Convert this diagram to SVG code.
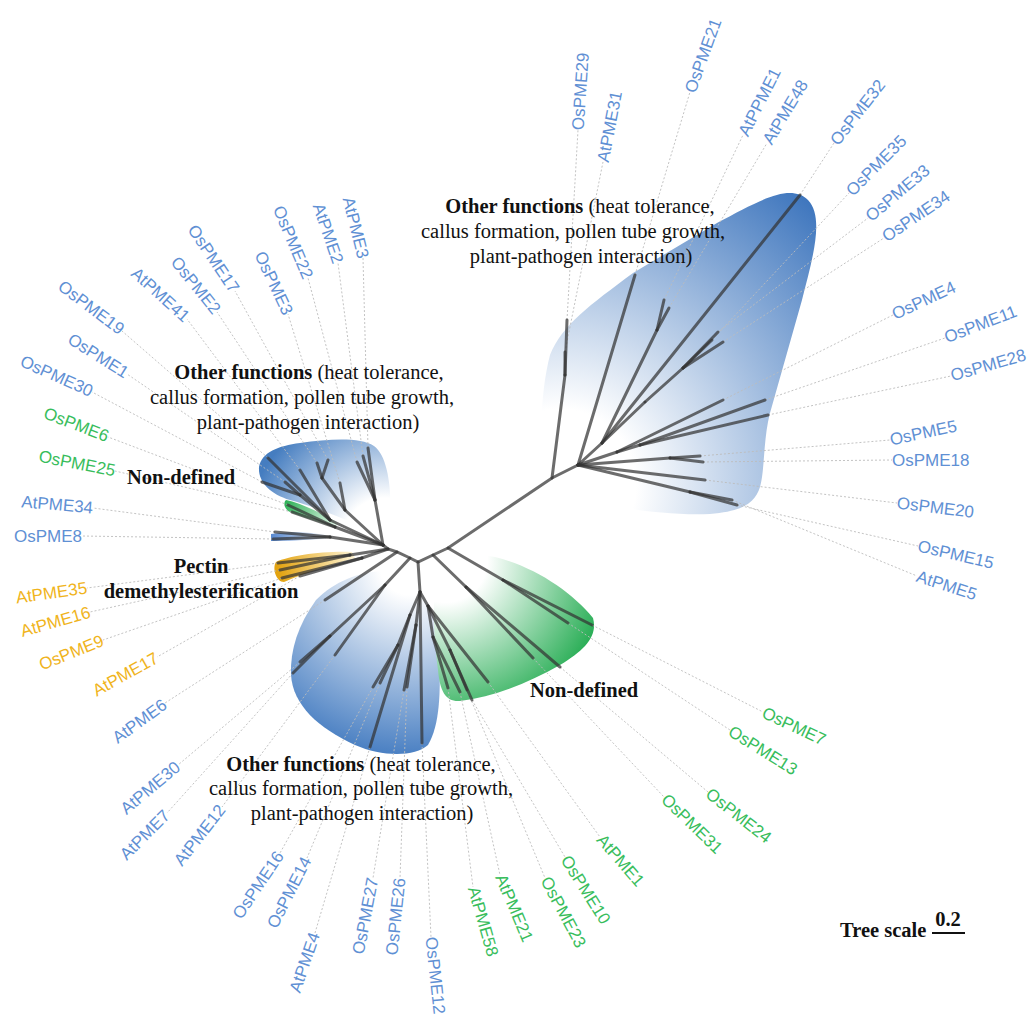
<svg xmlns="http://www.w3.org/2000/svg" width="1030" height="1016" viewBox="0 0 1030 1016">
<style>
.br{stroke:#333;stroke-opacity:0.72;stroke-width:3;fill:none;stroke-linecap:round}
.dl{stroke:#bcbcbc;stroke-width:0.9;stroke-dasharray:2 2;fill:none}
.lab{font-family:"Liberation Sans",Arial,sans-serif;font-size:17px;dominant-baseline:central}
.s{text-anchor:start}.e{text-anchor:end}
.b{fill:#5f90d4}.g{fill:#38bd5c}.y{fill:#f0b41c}
.ann{font-family:"Liberation Serif","Times New Roman",serif;font-size:20.5px;fill:#111}
.bold{font-weight:bold}
</style>
<defs>
<radialGradient id="gUR" gradientUnits="userSpaceOnUse" cx="560" cy="485" r="380"><stop offset="0" stop-color="#fff"/><stop offset="0.2" stop-color="#fff"/><stop offset="1" stop-color="#3d75bd"/></radialGradient>
<radialGradient id="gUL" gradientUnits="userSpaceOnUse" cx="385" cy="540" r="140"><stop offset="0" stop-color="#fff"/><stop offset="0.3" stop-color="#fff"/><stop offset="1" stop-color="#457dc0"/></radialGradient>
<radialGradient id="gLB" gradientUnits="userSpaceOnUse" cx="410" cy="565" r="200"><stop offset="0" stop-color="#fff"/><stop offset="0.15" stop-color="#fff"/><stop offset="1" stop-color="#3f78bf"/></radialGradient>
<radialGradient id="gG" gradientUnits="userSpaceOnUse" cx="445" cy="560" r="170"><stop offset="0" stop-color="#fff"/><stop offset="0.25" stop-color="#fff"/><stop offset="1" stop-color="#22ab50"/></radialGradient>
<linearGradient id="gY" gradientUnits="userSpaceOnUse" x1="356" y1="556" x2="278" y2="570"><stop offset="0" stop-color="#fff6d8"/><stop offset="1" stop-color="#e3a310"/></linearGradient>
<linearGradient id="gGs" gradientUnits="userSpaceOnUse" x1="338" y1="525" x2="286" y2="504"><stop offset="0" stop-color="#e8f7ec"/><stop offset="1" stop-color="#32b35a"/></linearGradient>
<linearGradient id="gBs" gradientUnits="userSpaceOnUse" x1="326" y1="537" x2="272" y2="537"><stop offset="0" stop-color="#eef3fa"/><stop offset="1" stop-color="#5a8ad0"/></linearGradient>
</defs>
<rect width="1030" height="1016" fill="#fff"/>
<g id="clades">
<path d="M548,480 C538,440 541,390 550,355 C562,325 590,305 633,273 L717,223 C760,200 790,183 808,200 C825,218 812,260 802,300 L770,413 C763,440 765,470 760,487 C755,502 745,511 710,514 C660,516 600,506 560,491 Z" fill="url(#gUR)"/>
<path d="M385,536 C360,526 320,508 290,500 C270,494 258,482 259,467 C262,452 278,446 300,443 C330,439 360,437 374,446 C388,456 392,490 390,520 Z" fill="url(#gUL)"/>
<path d="M286,500 C300,503 320,512 338,523 L336,528 C318,522 300,516 290,512 C284,509 283,503 286,500 Z" fill="url(#gGs)"/>
<path d="M271,534 C290,531 310,532 326,535 L326,539 C305,540 285,541 271,541 Z" fill="url(#gBs)"/>
<path d="M276,562 C290,556 320,551 352,552 L355,558 C330,565 300,575 284,582 C276,582 272,568 276,562 Z" fill="url(#gY)"/>
<path d="M316,600 C298,625 290,650 291,675 C293,705 318,728 355,745 C382,757 415,757 428,745 C440,725 441,690 439,650 C437,615 425,590 405,575 C380,565 340,575 316,600 Z" fill="url(#gLB)"/>
<path d="M436,585 C445,562 470,552 495,557 C535,567 572,592 593,618 C598,636 585,650 560,665 C530,682 495,697 460,701 C446,702 440,692 438,670 C434,640 432,605 436,585 Z" fill="url(#gG)"/>
</g>
<g id="connectors">
<g id="leader-lines">
<path class="dl" d="M567,320L578,130"/><path class="dl" d="M565,352L603,162"/><path class="dl" d="M635,275L690,92"/><path class="dl" d="M664,300L743,135"/><path class="dl" d="M669,308L767,143"/><path class="dl" d="M800,195L834,143"/><path class="dl" d="M712,340L849,193"/><path class="dl" d="M718,332L868,218"/><path class="dl" d="M723,342L884,238"/><path class="dl" d="M723,400L893,315"/><path class="dl" d="M765,400L945,338"/><path class="dl" d="M768,415L951,376"/><path class="dl" d="M700,456L890,440"/><path class="dl" d="M703,462L892,460"/><path class="dl" d="M705,480L897,503"/><path class="dl" d="M737,505L918,546"/><path class="dl" d="M732,500L917,576"/>
<path class="dl" d="M592,625L763,712"/><path class="dl" d="M568,623L730,730"/><path class="dl" d="M560,667L708,792"/><path class="dl" d="M533,658L664,797"/><path class="dl" d="M488,682L600,837"/><path class="dl" d="M472,700L565,857"/><path class="dl" d="M467,690L545,878"/><path class="dl" d="M460,692L500,875"/><path class="dl" d="M448,688L473,887"/><path class="dl" d="M422,743L431,937"/>
<path class="dl" d="M407,687L400,878"/><path class="dl" d="M404,690L373,878"/><path class="dl" d="M370,747L315,933"/><path class="dl" d="M380,683L307,858"/><path class="dl" d="M373,687L280,853"/><path class="dl" d="M335,655L222,807"/><path class="dl" d="M293,673L167,813"/><path class="dl" d="M300,662L178,765"/><path class="dl" d="M325,600L165,703"/>
<path class="dl" d="M300,576L157,657"/><path class="dl" d="M282,578L103,640"/><path class="dl" d="M280,570L90,612"/><path class="dl" d="M278,563L87,588"/>
<path class="dl" d="M273,539L82,536"/><path class="dl" d="M275,532L93,508"/><path class="dl" d="M292,512L115,471"/><path class="dl" d="M288,505L108,437"/><path class="dl" d="M262,482L92,392"/><path class="dl" d="M285,482L127,374"/><path class="dl" d="M268,458L122,331"/><path class="dl" d="M300,470L187,319"/><path class="dl" d="M317,463L217,312"/><path class="dl" d="M328,460L235,291"/><path class="dl" d="M340,483L288,314"/><path class="dl" d="M357,462L308,278"/><path class="dl" d="M363,456L338,263"/><path class="dl" d="M368,448L363,258"/>
</g>
<g id="branches">
<polyline class="br" points="383,545 388,549 397,552 410,558 418,562 433,555 448,548 552,478 578,465"/>
<path class="br" d="M552,478L565,375"/><path class="br" d="M565,375L567,320"/><path class="br" d="M565,375L565,352"/>
<path class="br" d="M578,465L635,275"/><path class="br" d="M578,465L602,443"/><path class="br" d="M602,443L800,195"/>
<path class="br" d="M602,443L657,330"/><path class="br" d="M657,330L664,300"/><path class="br" d="M657,330L669,308"/>
<path class="br" d="M602,443L645,402"/><path class="br" d="M645,402L683,368"/><path class="br" d="M683,368L712,340"/><path class="br" d="M683,368L718,332"/><path class="br" d="M683,368L723,342"/>
<path class="br" d="M578,465L617,452"/><path class="br" d="M617,452L723,400"/><path class="br" d="M617,452L640,445"/><path class="br" d="M640,445L765,400"/><path class="br" d="M640,445L768,415"/>
<path class="br" d="M578,465L670,458"/><path class="br" d="M670,458L700,456"/><path class="br" d="M670,458L703,462"/>
<path class="br" d="M578,465L705,480"/><path class="br" d="M578,465L690,492"/><path class="br" d="M690,492L737,505"/><path class="br" d="M690,492L732,500"/>
<path class="br" d="M383,545L375,500"/><path class="br" d="M375,500L368,448"/><path class="br" d="M375,500L363,456"/><path class="br" d="M375,500L357,462"/>
<path class="br" d="M383,545L345,510"/><path class="br" d="M345,510L340,483"/><path class="br" d="M345,510L322,478"/><path class="br" d="M322,478L317,463"/><path class="br" d="M322,478L328,460"/>
<path class="br" d="M383,545L330,520"/><path class="br" d="M330,520L268,458"/><path class="br" d="M330,520L300,470"/><path class="br" d="M330,520L300,495"/><path class="br" d="M300,495L262,482"/><path class="br" d="M300,495L285,482"/>
<path class="br" d="M383,545L335,527"/><path class="br" d="M335,527L288,505"/><path class="br" d="M335,527L292,512"/>
<path class="br" d="M383,545L330,537"/><path class="br" d="M330,537L275,532"/><path class="br" d="M330,537L273,539"/>
<path class="br" d="M388,549L350,555"/><path class="br" d="M350,555L278,563"/><path class="br" d="M350,555L280,570"/><path class="br" d="M388,549L362,558"/><path class="br" d="M362,558L282,578"/><path class="br" d="M362,558L300,576"/>
<path class="br" d="M397,552L325,600"/><path class="br" d="M410,558L385,585"/><path class="br" d="M385,585L335,655"/><path class="br" d="M385,585L330,636"/><path class="br" d="M330,636L293,673"/><path class="br" d="M330,636L300,662"/>
<path class="br" d="M418,562L420,592"/><path class="br" d="M420,592L422,743"/><path class="br" d="M420,592L416,625"/><path class="br" d="M416,625L407,687"/><path class="br" d="M416,625L404,690"/>
<path class="br" d="M420,592L410,615"/><path class="br" d="M410,615L370,747"/><path class="br" d="M410,615L398,645"/><path class="br" d="M398,645L373,687"/><path class="br" d="M398,645L380,683"/>
<path class="br" d="M420,592L428,606"/><path class="br" d="M428,606L433,637"/><path class="br" d="M433,637L448,688"/><path class="br" d="M433,637L460,692"/><path class="br" d="M428,606L450,650"/><path class="br" d="M450,650L467,690"/><path class="br" d="M450,650L472,700"/><path class="br" d="M428,606L488,682"/>
<path class="br" d="M433,555L466,587"/><path class="br" d="M466,587L533,658"/><path class="br" d="M466,587L560,667"/>
<path class="br" d="M448,548L503,580"/><path class="br" d="M503,580L592,625"/><path class="br" d="M503,580L568,623"/>
</g>
</g>
<g id="labels">
<g id="n-OsPME29"><text class="lab s b" transform="translate(578,130) rotate(-86)">OsPME29</text></g>
<g id="n-AtPME31"><text class="lab s b" transform="translate(603,162) rotate(-79)">AtPME31</text></g>
<g id="n-OsPME21"><text class="lab s b" transform="translate(690,92) rotate(-70)">OsPME21</text></g>
<g id="n-AtPPME1"><text class="lab s b" transform="translate(743,135) rotate(-63)">AtPPME1</text></g>
<g id="n-AtPME48"><text class="lab s b" transform="translate(767,143) rotate(-59)">AtPME48</text></g>
<g id="n-OsPME32"><text class="lab s b" transform="translate(834,143) rotate(-52)">OsPME32</text></g>
<g id="n-OsPME35"><text class="lab s b" transform="translate(849,193) rotate(-45)">OsPME35</text></g>
<g id="n-OsPME33"><text class="lab s b" transform="translate(868,218) rotate(-40)">OsPME33</text></g>
<g id="n-OsPME34"><text class="lab s b" transform="translate(884,238) rotate(-34)">OsPME34</text></g>
<g id="n-OsPME4"><text class="lab s b" transform="translate(893,315) rotate(-25)">OsPME4</text></g>
<g id="n-OsPME11"><text class="lab s b" transform="translate(945,338) rotate(-21)">OsPME11</text></g>
<g id="n-OsPME28"><text class="lab s b" transform="translate(951,376) rotate(-16)">OsPME28</text></g>
<g id="n-OsPME5"><text class="lab s b" transform="translate(890,440) rotate(-12)">OsPME5</text></g>
<g id="n-OsPME18"><text class="lab s b" transform="translate(892,460)">OsPME18</text></g>
<g id="n-OsPME20"><text class="lab s b" transform="translate(897,503) rotate(7)">OsPME20</text></g>
<g id="n-OsPME15"><text class="lab s b" transform="translate(918,546) rotate(13)">OsPME15</text></g>
<g id="n-AtPME5"><text class="lab s b" transform="translate(917,576) rotate(18)">AtPME5</text></g>
<g id="n-OsPME7"><text class="lab s g" transform="translate(763,712) rotate(25)">OsPME7</text></g>
<g id="n-OsPME13"><text class="lab s g" transform="translate(730,730) rotate(32)">OsPME13</text></g>
<g id="n-OsPME24"><text class="lab s g" transform="translate(708,792) rotate(38)">OsPME24</text></g>
<g id="n-OsPME31"><text class="lab s g" transform="translate(664,797) rotate(44)">OsPME31</text></g>
<g id="n-AtPME1"><text class="lab s g" transform="translate(600,837) rotate(49)">AtPME1</text></g>
<g id="n-OsPME10"><text class="lab s g" transform="translate(565,857) rotate(58)">OsPME10</text></g>
<g id="n-OsPME23"><text class="lab s g" transform="translate(545,878) rotate(62)">OsPME23</text></g>
<g id="n-AtPME21"><text class="lab s g" transform="translate(500,875) rotate(67)">AtPME21</text></g>
<g id="n-AtPME58"><text class="lab s g" transform="translate(473,887) rotate(74)">AtPME58</text></g>
<g id="n-OsPME12"><text class="lab s b" transform="translate(431,937) rotate(84)">OsPME12</text></g>
<g id="n-OsPME26"><text class="lab e b" transform="translate(400,878) rotate(-84)">OsPME26</text></g>
<g id="n-OsPME27"><text class="lab e b" transform="translate(373,878) rotate(-79)">OsPME27</text></g>
<g id="n-AtPME4"><text class="lab e b" transform="translate(315,933) rotate(-71)">AtPME4</text></g>
<g id="n-OsPME14"><text class="lab e b" transform="translate(307,858) rotate(-63)">OsPME14</text></g>
<g id="n-OsPME16"><text class="lab e b" transform="translate(280,853) rotate(-56)">OsPME16</text></g>
<g id="n-AtPME12"><text class="lab e b" transform="translate(222,807) rotate(-52)">AtPME12</text></g>
<g id="n-AtPME7"><text class="lab e b" transform="translate(167,813) rotate(-45)">AtPME7</text></g>
<g id="n-AtPME30"><text class="lab e b" transform="translate(178,765) rotate(-40)">AtPME30</text></g>
<g id="n-AtPME6"><text class="lab e b" transform="translate(165,703) rotate(-36)">AtPME6</text></g>
<g id="n-AtPME17"><text class="lab e y" transform="translate(157,657) rotate(-29)">AtPME17</text></g>
<g id="n-OsPME9"><text class="lab e y" transform="translate(103,640) rotate(-22)">OsPME9</text></g>
<g id="n-AtPME16"><text class="lab e y" transform="translate(90,612) rotate(-16)">AtPME16</text></g>
<g id="n-AtPME35"><text class="lab e y" transform="translate(87,588) rotate(-8)">AtPME35</text></g>
<g id="n-OsPME8"><text class="lab e b" transform="translate(82,536)">OsPME8</text></g>
<g id="n-AtPME34"><text class="lab e b" transform="translate(93,508) rotate(5)">AtPME34</text></g>
<g id="n-OsPME25"><text class="lab e g" transform="translate(115,471) rotate(11)">OsPME25</text></g>
<g id="n-OsPME6"><text class="lab e g" transform="translate(108,437) rotate(21)">OsPME6</text></g>
<g id="n-OsPME30"><text class="lab e b" transform="translate(92,392) rotate(24)">OsPME30</text></g>
<g id="n-OsPME1"><text class="lab e b" transform="translate(127,374) rotate(32)">OsPME1</text></g>
<g id="n-OsPME19"><text class="lab e b" transform="translate(122,331) rotate(37)">OsPME19</text></g>
<g id="n-AtPME41"><text class="lab e b" transform="translate(187,319) rotate(42)">AtPME41</text></g>
<g id="n-OsPME2"><text class="lab e b" transform="translate(217,312) rotate(51)">OsPME2</text></g>
<g id="n-OsPME17"><text class="lab e b" transform="translate(235,291) rotate(56)">OsPME17</text></g>
<g id="n-OsPME3"><text class="lab e b" transform="translate(288,314) rotate(65)">OsPME3</text></g>
<g id="n-OsPME22"><text class="lab e b" transform="translate(308,278) rotate(67)">OsPME22</text></g>
<g id="n-AtPME2"><text class="lab e b" transform="translate(338,263) rotate(71)">AtPME2</text></g>
<g id="n-AtPME3"><text class="lab e b" transform="translate(363,258) rotate(76)">AtPME3</text></g>
</g>
<g id="annotations">
<g id="ann-upper-right"><text class="ann" text-anchor="middle" x="580" y="213"><tspan class="bold">Other functions</tspan> (heat tolerance,</text><text class="ann" text-anchor="middle" x="573" y="238">callus formation, pollen tube growth,</text><text class="ann" text-anchor="middle" x="581" y="263">plant-pathogen interaction)</text></g>
<g id="ann-left"><text class="ann" text-anchor="middle" x="309" y="379"><tspan class="bold">Other functions</tspan> (heat tolerance,</text><text class="ann" text-anchor="middle" x="302" y="404">callus formation, pollen tube growth,</text><text class="ann" text-anchor="middle" x="308" y="429">plant-pathogen interaction)</text></g>
<g id="ann-bottom"><text class="ann" text-anchor="middle" x="361" y="771"><tspan class="bold">Other functions</tspan> (heat tolerance,</text><text class="ann" text-anchor="middle" x="361" y="795">callus formation, pollen tube growth,</text><text class="ann" text-anchor="middle" x="362" y="820">plant-pathogen interaction)</text></g>
<g id="ann-nd-left"><text class="ann bold" x="127" y="484">Non-defined</text></g>
<g id="ann-nd-right"><text class="ann bold" x="530" y="697">Non-defined</text></g>
<g id="ann-pectin"><text class="ann bold" text-anchor="middle" x="201" y="573">Pectin</text><text class="ann bold" text-anchor="middle" x="201" y="598">demethylesterification</text></g>
<g id="tree-scale"><text class="ann bold" x="840" y="937">Tree scale</text><text class="ann bold" text-anchor="middle" x="948" y="926">0.2</text><line x1="932" y1="933" x2="965" y2="933" stroke="#111" stroke-width="2"/></g>
</g>
</svg>
